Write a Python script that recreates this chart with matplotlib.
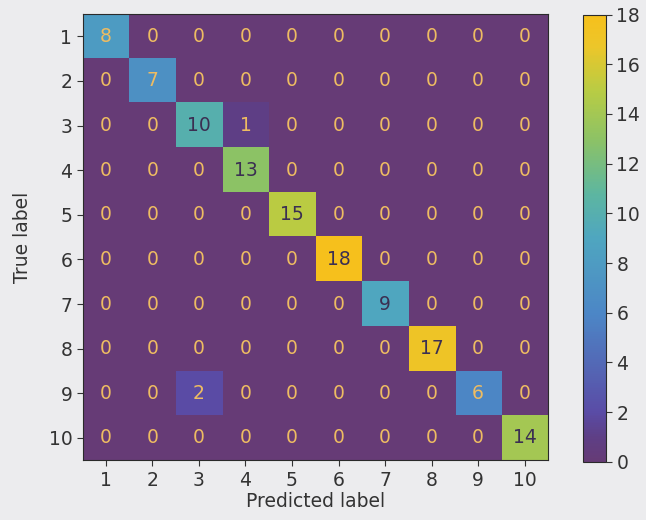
import numpy as np
import matplotlib
matplotlib.use("Agg")
import matplotlib.pyplot as plt
from matplotlib.colors import LinearSegmentedColormap

labels = ["1", "2", "3", "4", "5", "6", "7", "8", "9", "10"]
cm = np.array([
    [8, 0, 0, 0, 0, 0, 0, 0, 0, 0],
    [0, 7, 0, 0, 0, 0, 0, 0, 0, 0],
    [0, 0, 10, 1, 0, 0, 0, 0, 0, 0],
    [0, 0, 0, 13, 0, 0, 0, 0, 0, 0],
    [0, 0, 0, 0, 15, 0, 0, 0, 0, 0],
    [0, 0, 0, 0, 0, 18, 0, 0, 0, 0],
    [0, 0, 0, 0, 0, 0, 9, 0, 0, 0],
    [0, 0, 0, 0, 0, 0, 0, 17, 0, 0],
    [0, 0, 2, 0, 0, 0, 0, 0, 6, 0],
    [0, 0, 0, 0, 0, 0, 0, 0, 0, 14],
])

# viridis as it comes out on a slightly washed-out print
cmap = LinearSegmentedColormap.from_list("print_viridis", [
    (0.00, "#663b76"),
    (0.055, "#5e3f86"),
    (0.11, "#5a4ca6"),
    (0.33, "#4c86c6"),
    (0.50, "#4fa6c0"),
    (0.60, "#5db6a0"),
    (0.72, "#8cc266"),
    (0.83, "#b8cc44"),
    (0.93, "#ecc62a"),
    (1.00, "#f6c01c"),
])
light_txt = "#eebc62"
dark_txt = "#3b2f52"
bg = "#ececee"
fs = 13.5

fig = plt.figure(figsize=(6.46, 5.20), dpi=100, facecolor=bg)
ax = fig.add_axes([0.128, 0.115, 0.72, 0.858])
im = ax.imshow(cm, cmap=cmap, vmin=0, vmax=cm.max(), aspect="auto",
               interpolation="nearest")

thresh = (cm.max() + cm.min()) / 2.0
for i in range(cm.shape[0]):
    for j in range(cm.shape[1]):
        v = cm[i, j]
        ax.text(j, i, str(v), ha="center", va="center", fontsize=fs,
                color=light_txt if v < thresh else dark_txt)

ax.set_xticks(range(len(labels)))
ax.set_yticks(range(len(labels)))
ax.set_xticklabels(labels)
ax.set_yticklabels(labels)
ax.tick_params(labelsize=fs, colors="#333333", length=4)
ax.set_xlabel("Predicted label", fontsize=fs, color="#333333", labelpad=2)
ax.set_ylabel("True label", fontsize=fs, color="#333333", labelpad=12)
for s in ax.spines.values():
    s.set_color("#2a2a2a")

cax = fig.add_axes([0.902, 0.112, 0.036, 0.860])
cb = fig.colorbar(im, cax=cax, ticks=range(0, 19, 2))
cb.ax.tick_params(labelsize=fs, colors="#333333", length=4)
cb.outline.set_edgecolor("#2a2a2a")

fig.savefig("out.png", dpi=100, facecolor=bg)
